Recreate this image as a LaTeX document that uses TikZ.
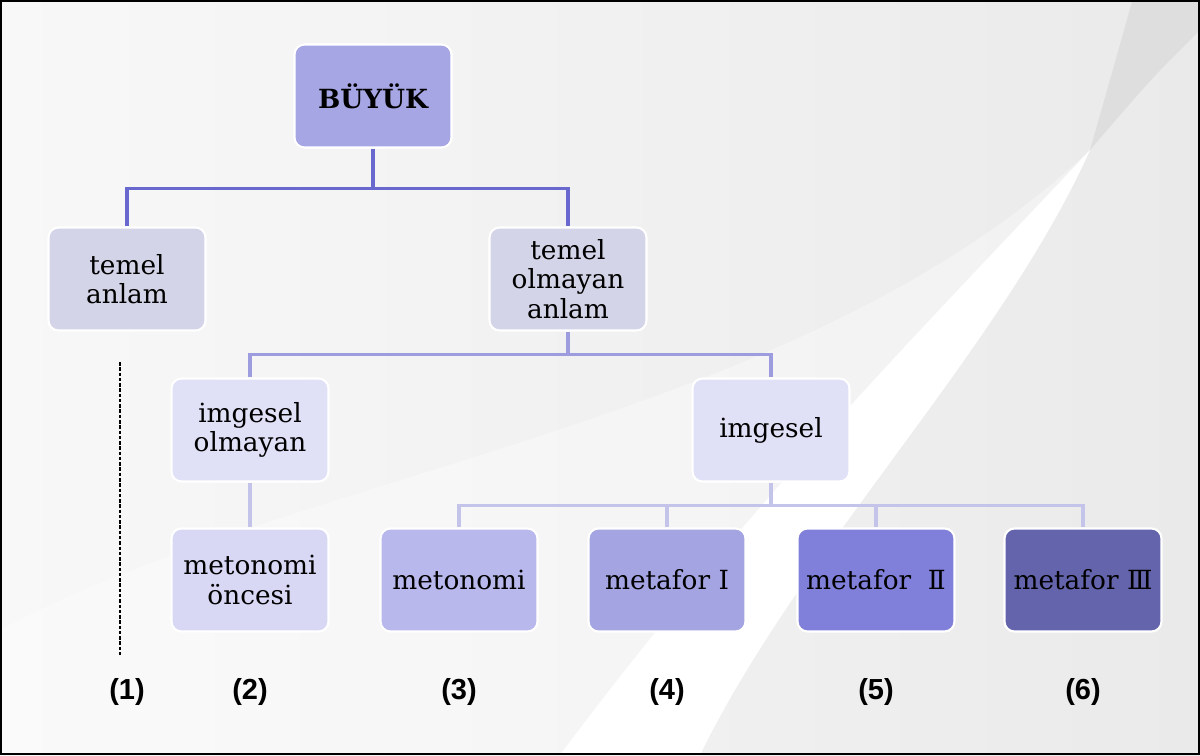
\documentclass[tikz,border=0pt]{standalone}
\usepackage{fontspec}
\setmainfont{DejaVu Serif}
\newfontfamily\numfont{Liberation Sans}
\usepackage{tikz}
\usetikzlibrary{calc}
\definecolor{bgleft}{RGB}{248,248,248}
\definecolor{bgright}{RGB}{234,234,234}
\definecolor{linkone}{RGB}{104,104,206}
\definecolor{linktwo}{RGB}{156,156,222}
\definecolor{linkthree}{RGB}{196,196,234}
\definecolor{cbuyuk}{RGB}{166,166,228}
\definecolor{ctemel}{RGB}{212,212,232}
\definecolor{cimg}{RGB}{224,224,247}
\definecolor{concesi}{RGB}{216,216,245}
\definecolor{cmeton}{RGB}{184,184,236}
\definecolor{cmetI}{RGB}{164,164,226}
\definecolor{cmetII}{RGB}{128,128,218}
\definecolor{cmetIII}{RGB}{100,100,172}

\begin{document}
\begin{tikzpicture}
\tikzstyle{every node}=[font=\fontsize{15}{16.8}\selectfont]
\tikzstyle{box}=[draw=white,line width=1.2pt,rounded corners=0.2cm,minimum width=3.14cm,minimum height=2.06cm,align=center,inner sep=2pt]
\tikzstyle{nr}=[font=\numfont\bfseries\fontsize{16.5}{18}\selectfont]
\tikzstyle{lvlone}=[linkone,line width=2.2pt]
\tikzstyle{lvltwo}=[linktwo,line width=1.8pt]
\tikzstyle{lvlthree}=[linkthree,line width=1.8pt]
\useasboundingbox (0,0) rectangle (24,-15.1);
\shade[left color=bgleft,right color=bgright](0,0) rectangle (24,-15.1);
\fill[white,opacity=0.35](0,-12.6) .. controls (6,-9.4) and (16,-8.5) .. (21.8,-3) .. controls (20,-7) and (16,-11) .. (14,-15.1) -- (0,-15.1) -- cycle;
\fill[white](11.2,-15.1) .. controls (15,-10) and (19,-6) .. (21.8,-3) .. controls (20,-7) and (16,-11) .. (14,-15.1) -- cycle;
\fill[black!13](21.8,-3) .. controls (22.2,-1.6) .. (22.65,0) -- (23.9,0) -- (24,-0.1) -- (24,-0.6) .. controls (23,-1.6) .. (21.8,-3) -- cycle;
\draw[black,line width=1pt](0.02,-0.02) rectangle (23.98,-15.08);

\node[box,fill=cbuyuk,font=\bfseries\fontsize{15}{16.8}\selectfont] (buyuk) at (7.46,-1.92) {BÜYÜK};
\node[box,fill=ctemel] (temel) at (2.54,-5.58) {temel\\anlam};
\node[box,fill=ctemel] (olmayan) at (11.36,-5.58) {temel\\olmayan\\anlam};
\node[box,fill=cimg] (imgolm) at (5.0,-8.6) {imgesel\\olmayan};
\node[box,fill=cimg] (imgesel) at (15.42,-8.6) {imgesel};
\node[box,fill=concesi] (oncesi) at (5.0,-11.6) {metonomi\\öncesi};
\node[box,fill=cmeton] (meton) at (9.18,-11.6) {metonomi};
\node[box,fill=cmetI] (metI) at (13.34,-11.6) {metafor I};
\node[box,fill=cmetII] (metII) at (17.52,-11.6) {metafor\ \ Ⅱ};
\node[box,fill=cmetIII] (metIII) at (21.66,-11.6) {metafor\ Ⅲ};

\draw[lvlone](buyuk.south) -- ++(0,-0.8) coordinate (jone);
\draw[lvlone](temel.north) |- (jone) -| (olmayan.north);
\draw[lvltwo](olmayan.south) -- ++(0,-0.46) coordinate (jtwo);
\draw[lvltwo](imgolm.north) |- (jtwo) -| (imgesel.north);
\draw[lvlthree](imgesel.south) -- ++(0,-0.46) coordinate (jthree);
\draw[lvlthree](meton.north) |- (jthree) -| (metIII.north);
\draw[lvlthree](metI.north) -- (metI.north |- jthree);
\draw[lvlthree](metII.north) -- (metII.north |- jthree);
\draw[linkthree,line width=1.8pt](imgolm.south) -- (oncesi.north);

\coordinate (dtop) at (2.4,-7.24);
\coordinate (dbot) at (2.4,-13.1);
\draw[black,dashed,dash pattern=on 2pt off 1pt,line width=0.6pt](dtop) -- (dbot);

\node[nr] (n1) at (2.54,-13.84) {(1)};
\node[nr] (n2) at (5.0,-13.84) {(2)};
\node[nr] (n3) at (9.18,-13.84) {(3)};
\node[nr] (n4) at (13.34,-13.84) {(4)};
\node[nr] (n5) at (17.52,-13.84) {(5)};
\node[nr] (n6) at (21.66,-13.84) {(6)};
\end{tikzpicture}
\end{document}
